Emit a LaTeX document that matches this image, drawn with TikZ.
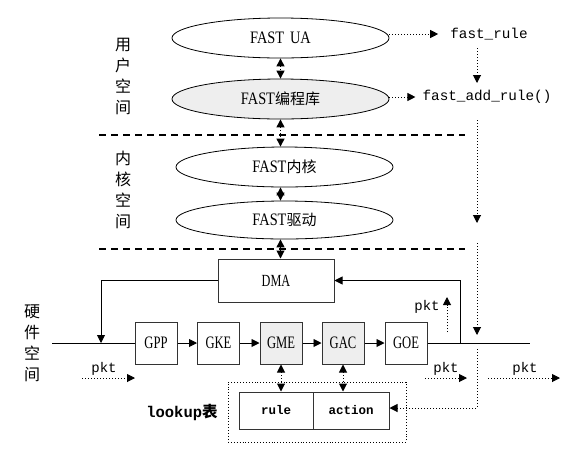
\documentclass[tikz,border=0pt]{standalone}
\usepackage{fontspec}
\setmainfont{Liberation Serif}
\setmonofont{Liberation Mono}
\newfontfamily\cjk{Noto Sans CJK SC}
\newfontfamily\nser[FakeStretch=0.82]{Liberation Serif}
\newfontfamily\nserb[FakeStretch=0.72]{Liberation Serif}
\usetikzlibrary{shapes.geometric,arrows.meta}
\definecolor{lg}{HTML}{EEEEEE}
\definecolor{bd}{HTML}{333333}
\newcommand{\cj}[1]{{\fontsize{15}{17}\selectfont\cjk #1}}
\begin{document}
\begin{tikzpicture}[x=1pt,y=-1pt,
  tip/.tip={Triangle[length=8pt,width=8pt]},
  ell/.style={ellipse,draw,line width=0.8pt,minimum width=217pt,minimum height=40pt,inner sep=0pt,font=\fontsize{17.5}{19}\selectfont\nser},
  blk/.style={rectangle,draw=bd,line width=1pt,minimum width=42pt,minimum height=42pt,inner sep=0pt,font=\fontsize{17.5}{19}\selectfont\nserb},
  tbl/.style={rectangle,draw=bd,line width=1pt,minimum height=37pt,inner sep=0pt,font=\fontsize{12.5}{14}\selectfont\ttfamily\bfseries},
  darr/.style={dotted,line width=1pt,tip-tip},
  dar/.style={dotted,line width=1pt,-tip},
  sar/.style={line width=0.9pt,-tip},
  sep/.style={dashed,dash pattern=on 7pt off 5pt,line width=1.2pt},
  side/.style={align=center,font=\fontsize{16}{21}\selectfont\cjk},
  mono/.style={font=\fontsize{14.3}{16}\selectfont\ttfamily,inner sep=0pt},
  pkt/.style={font=\fontsize{14}{15}\selectfont\ttfamily,inner sep=0pt}
]
\useasboundingbox (0,0) rectangle (570,448);

% ellipses
\node[ell] (ua) at (280.5,38) {FAST\hspace{6pt}UA};
\node[ell,fill=lg] (lib) at (280.5,99) {FAST\cj{编程库}};
\node[ell] (kern) at (284.5,167) {FAST\cj{内核}};
\node[ell,minimum height=38pt] (drv) at (284.5,220) {FAST\cj{驱动}};

% separators
\coordinate (s1a) at (99,135); \coordinate (s1b) at (465,135);
\coordinate (s2a) at (99,249); \coordinate (s2b) at (465,249);
\draw[sep] (s1a) -- (s1b);
\draw[sep] (s2a) -- (s2b);

% side labels
\node[side] (us) at (123,76) {用\\户\\空\\间};
\node[side] (ks) at (123,189.5) {内\\核\\空\\间};
\node[side] (hs) at (32,343.5) {硬\\件\\空\\间};

% right texts
\node[mono] (fr) at (489,34) {fast\_rule};
\node[mono] (far) at (487,97) {fast\_add\_rule()};

% DMA and pipeline
\node[blk,minimum width=116pt,minimum height=43pt,font=\fontsize{17}{19}\selectfont\nserb] (dma) at (276,280.5) {DMA};
\node[blk] (gpp) at (156,343) {GPP};
\node[blk] (gke) at (218.5,343) {GKE};
\node[blk,fill=lg] (gme) at (281,343) {GME};
\node[blk,fill=lg] (gac) at (343,343) {GAC};
\node[blk] (goe) at (406,343) {GOE};

% lookup table
\node[draw,dotted,line width=0.9pt,minimum width=178pt,minimum height=60pt,inner sep=0pt] (lk) at (317,412) {};
\node[tbl,minimum width=74pt] (rule) at (276,410.5) {rule};
\node[tbl,minimum width=76pt] (act) at (351,410.5) {action};
\node[font=\fontsize{15.5}{17}\selectfont\bfseries,inner sep=0pt] (lkt) at (182,412) {\texttt{lookup}{\cjk 表}};

% vertical double arrows
\draw[darr] (ua.south) -- (lib.north);
\draw[darr] (lib.south) -- (lib.south |- kern.north);
\draw[darr] (kern.south -| lib.south) -- (drv.north -| lib.south);
\draw[darr] (drv.south -| lib.south) -- (dma.north -| lib.south);
\draw[darr] (gme.south) -- (gme.south |- rule.north);
\draw[darr] (gac.south) -- (gac.south |- act.north);

% right side dotted arrows
\draw[dar] (ua.east |- fr.west) -- ([xshift=-12pt]fr.west);
\draw[dar] (lib.east |- far.west) -- ([xshift=-7pt]far.west);
\coordinate (v0) at (477,48); \coordinate (v1) at (477,83);
\draw[dar] (v0) -- (v1);
\coordinate (v2) at (477,120); \coordinate (v3) at (477,223);
\draw[dar] (v2) -- (v3);
\coordinate (v4) at (477,243); \coordinate (v5) at (477,335);
\draw[dar] (v4) -- (v5);
\coordinate (v6) at (477,349);
\draw[dar] (v6) |- ([yshift=2.5pt]act.east);

% main line
\coordinate (ml) at (52,343); \coordinate (mr) at (530,343);
\draw[line width=0.9pt] (ml) -- (gpp.west);
\draw[line width=0.9pt] (goe.east) -- (mr);
\draw[sar] (gpp) -- (gke);
\draw[sar] (gke) -- (gme);
\draw[sar] (gme) -- (gac);
\draw[sar] (gac) -- (goe);

% DMA feedback
\coordinate (fl) at (101,343);
\draw[sar] (dma.west) -| (fl);
\coordinate (fr2) at (460,343);
\draw[sar] (fr2) |- (dma.east);

% pkt labels
\coordinate (pu1) at (447,332); \coordinate (pu2) at (447,297);
\draw[dar] (pu1) -- (pu2);
\node[pkt] (pk0) at (427,307) {pkt};
\coordinate (p1a) at (82,378); \coordinate (p1b) at (135,378);
\draw[dar] (p1a) -- (p1b);
\node[pkt] (pk1) at (104,369) {pkt};
\coordinate (p2a) at (425,378); \coordinate (p2b) at (467,378);
\draw[dar] (p2a) -- (p2b);
\node[pkt] (pk2) at (446,369) {pkt};
\coordinate (p3a) at (488,378); \coordinate (p3b) at (560,378);
\draw[dar] (p3a) -- (p3b);
\node[pkt] (pk3) at (525,369) {pkt};
\end{tikzpicture}
\end{document}
